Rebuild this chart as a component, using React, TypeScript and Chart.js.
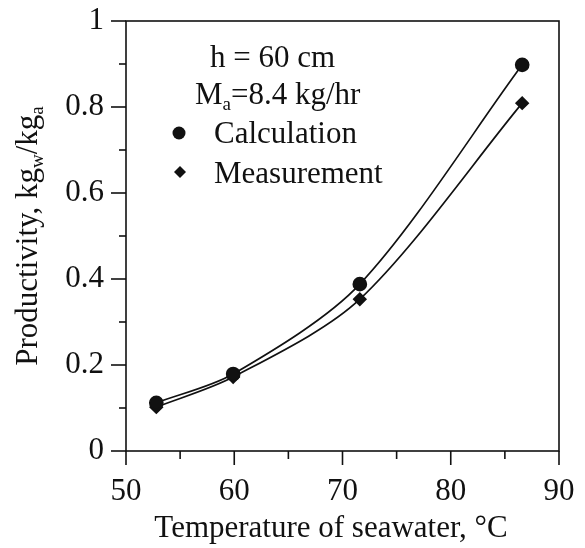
import React, { useEffect, useRef } from "react";
import { Chart, registerables } from "chart.js";

Chart.register(...registerables);

const temperatures = [52.8, 59.9, 71.6, 86.6];
const calculation = [0.112, 0.179, 0.388, 0.898];
const measurement = [0.102, 0.172, 0.353, 0.809];
const xTicks = [50, 60, 70, 80, 90];
const yTickLabels = ["0", "0.2", "0.4", "0.6", "0.8", "1"];
const legendLines = ["h = 60 cm", "8.4 kg/hr"];
const seriesNames = ["Calculation", "Measurement"];
const xTitle = "Temperature of seawater, °C";

const FONT = "Liberation Serif";
const FS = 31;

const overlay = {
  id: "overlay",
  afterDraw(chart: any) {
    const ctx = chart.ctx;
    const a = chart.chartArea;
    const xs = chart.scales.x;
    const ys = chart.scales.y;
    ctx.save();
    ctx.strokeStyle = "#111";
    ctx.fillStyle = "#111";
    ctx.lineWidth = 1.6;
    ctx.strokeRect(a.left, a.top, a.right - a.left, a.bottom - a.top);
    for (let v = 50; v <= 90; v += 5) {
      const px = xs.getPixelForValue(v);
      const major = v % 10 === 0;
      ctx.beginPath();
      ctx.moveTo(px, a.bottom);
      ctx.lineTo(px, a.bottom + (major ? 14 : 8));
      ctx.stroke();
    }
    for (let i = 0; i <= 10; i++) {
      const v = i / 10;
      const py = ys.getPixelForValue(v);
      const major = i % 2 === 0;
      ctx.beginPath();
      ctx.moveTo(a.left, py);
      ctx.lineTo(a.left - (major ? 15 : 7), py);
      ctx.stroke();
    }
    const big = `${FS}px "${FONT}"`;
    const small = `19px "${FONT}"`;
    ctx.font = big;
    ctx.textBaseline = "alphabetic";
    ctx.textAlign = "left";
    ctx.fillText(legendLines[0], 210, 67);
    let x = 195;
    ctx.fillText("M", x, 104);
    x += ctx.measureText("M").width;
    ctx.font = small;
    ctx.fillText("a", x, 110);
    x += ctx.measureText("a").width;
    ctx.font = big;
    ctx.fillText("=" + legendLines[1], x, 104);
    ctx.fillText(seriesNames[0], 214, 143);
    ctx.fillText(seriesNames[1], 214, 183);
    ctx.beginPath();
    ctx.arc(179, 133, 6.5, 0, Math.PI * 2);
    ctx.fill();
    ctx.beginPath();
    ctx.moveTo(180, 166);
    ctx.lineTo(186, 172);
    ctx.lineTo(180, 178);
    ctx.lineTo(174, 172);
    ctx.closePath();
    ctx.fill();
    // x title
    ctx.textAlign = "center";
    ctx.fillText(xTitle, 331, 537);
    ctx.textAlign = "left";
    // y title
    ctx.translate(37, (a.top + a.bottom) / 2);
    ctx.rotate(-Math.PI / 2);
    const parts: [string, boolean][] = [
      ["Productivity, kg", false],
      ["w", true],
      ["/kg", false],
      ["a", true],
    ];
    let total = 0;
    for (const [t, s] of parts) {
      ctx.font = s ? small : big;
      total += ctx.measureText(t).width;
    }
    let cx = -total / 2;
    for (const [t, s] of parts) {
      ctx.font = s ? small : big;
      ctx.fillText(t, cx, s ? 6 : 0);
      cx += ctx.measureText(t).width;
    }
    ctx.restore();
  },
};

const zeroPad = (s: any) => {
  s.paddingTop = 0;
  s.paddingBottom = 0;
  s.paddingLeft = 0;
  s.paddingRight = 0;
};

export default function App() {
  const ref = useRef<HTMLCanvasElement>(null);
  useEffect(() => {
    document.body.style.margin = "0";
    const chart = new Chart(ref.current!, {
      type: "line",
      data: {
        datasets: [
          {
            label: seriesNames[0],
            data: temperatures.map((t, i) => ({ x: t, y: calculation[i] })),
            borderColor: "#111",
            backgroundColor: "#111",
            borderWidth: 1.7,
            pointRadius: 6.5,
            pointStyle: "circle",
            tension: 0.3,
          },
          {
            label: seriesNames[1],
            data: temperatures.map((t, i) => ({ x: t, y: measurement[i] })),
            borderColor: "#111",
            backgroundColor: "#111",
            borderWidth: 1.7,
            pointRadius: 6,
            pointStyle: "rectRot",
            tension: 0.3,
          },
        ],
      },
      options: {
        animation: false,
        responsive: false,
        layout: { padding: { top: 21, right: 26, left: 0, bottom: 0 } },
        plugins: { legend: { display: false }, tooltip: { enabled: false } },
        scales: {
          x: {
            type: "linear",
            min: 50,
            max: 90,
            afterBuildTicks: (s: any) => {
              s.ticks = xTicks.map((v) => ({ value: v }));
            },
            grid: { display: false, drawTicks: false },
            border: { display: false },
            ticks: {
              color: "#111",
              font: { family: FONT, size: FS },
              padding: 22,
              maxRotation: 0,
              callback: (v: any) => String(v),
            },
            afterFit: (s: any) => {
              s.height = 548 - 451;
              zeroPad(s);
            },
          },
          y: {
            type: "linear",
            min: 0,
            max: 1,
            afterBuildTicks: (s: any) => {
              s.ticks = yTickLabels.map((l) => ({ value: parseFloat(l) }));
            },
            grid: { display: false, drawTicks: false },
            border: { display: false },
            ticks: {
              color: "#111",
              font: { family: FONT, size: FS },
              padding: 22,
              callback: (v: any) => yTickLabels[Math.round(v * 5)],
            },
            afterFit: (s: any) => {
              s.width = 126;
              zeroPad(s);
            },
          },
        },
      },
      plugins: [overlay],
    });
    return () => chart.destroy();
  }, []);
  return (
    <div style={{ width: 585, height: 548, background: "#fff" }}>
      <canvas ref={ref} width={585} height={548} style={{ display: "block" }} />
    </div>
  );
}
